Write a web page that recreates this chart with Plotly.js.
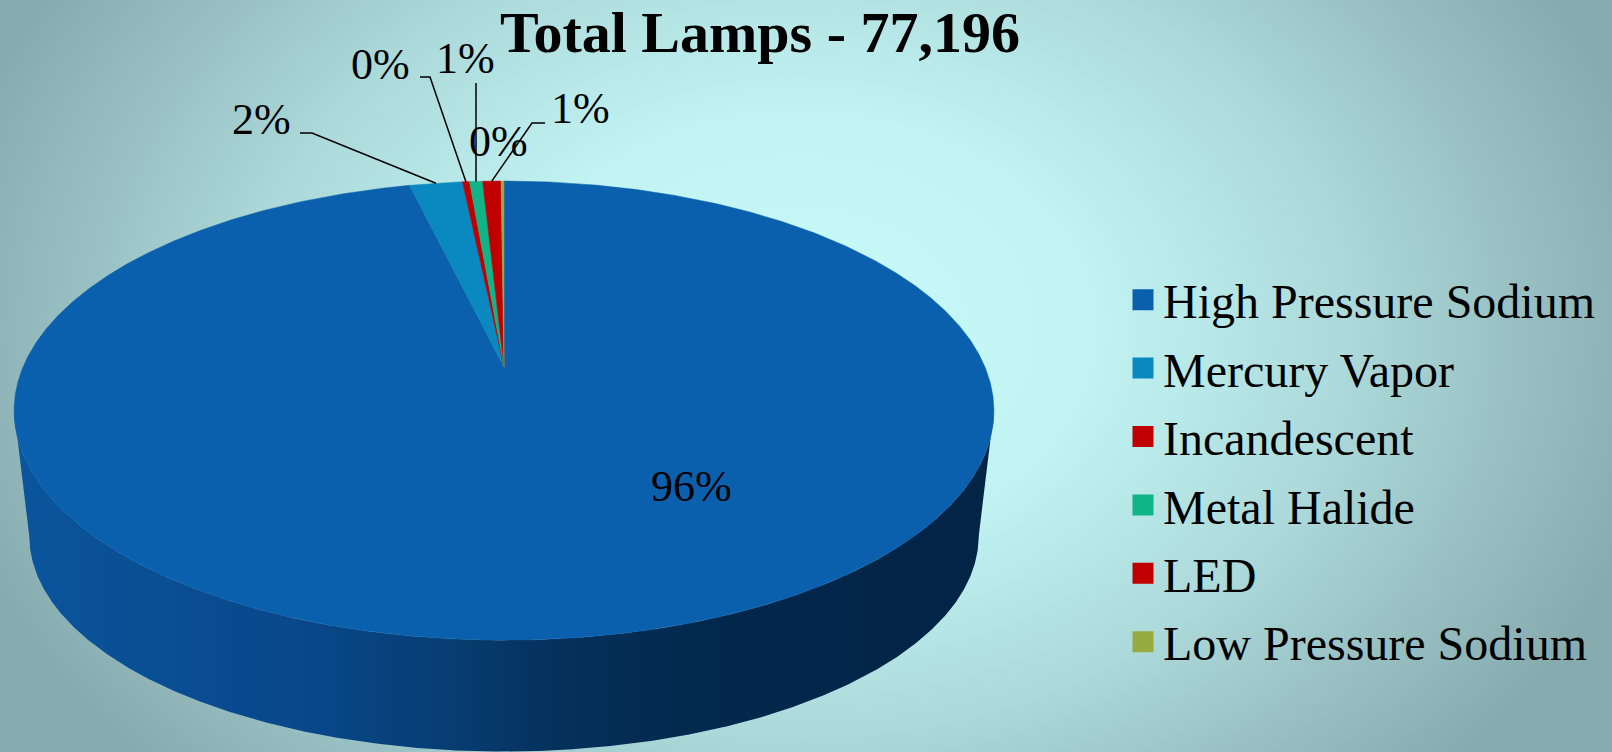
<!DOCTYPE html>
<html>
<head>
<meta charset="utf-8">
<script src="https://cdn.plot.ly/plotly-3.0.1.min.js"></script>
<style>
  html, body { margin: 0; padding: 0; }
  body { width: 1612px; height: 752px; overflow: hidden;
    background: radial-gradient(ellipse 840px 620px at 800px 330px,
      #c9fbfb 0%, #c1f3f3 35%, #acd9da 65%, #96bdc0 88%, #86abaf 105%); }
  #chart { width: 1612px; height: 752px; }
</style>
</head>
<body>
<div id="chart"></div>
<script>
// ---- data ----
const categories = ['High Pressure Sodium', 'Mercury Vapor', 'Incandescent', 'Metal Halide', 'LED', 'Low Pressure Sodium'];
const lampCounts = [74311, 1620, 215, 400, 560, 90];
const sliceColors = ['#0b60ad', '#0989c0', '#c00000', '#10b487', '#c00000', '#98ab43'];
const titlePrefix = 'Total Lamps - ';

// ---- geometry of the tilted (3-D look) pie, in pixel axis units ----
const W = 1612, H = 752;
const CX = 504, CY = 367, A = 221.3, B = 481, C = 0.19;   // top face perspective
const SX = 0.969, SY = 0.939, CYB = 495;                 // bottom face
const SERIF = 'Liberation Serif';
function proj(deg, face) {
  const t = deg * Math.PI / 180;
  const u = Math.sin(t), v = Math.cos(t);
  const w = 1 + C * v;
  let x = CX + B * u / w, y = CY - A * v / w;
  if (face === 'bottom') { x = CX + SX * (x - CX); y = CYB + SY * (y - CY); }
  return [x, y];
}
function arc(a0, a1, face) {
  const n = Math.max(2, Math.ceil(Math.abs(a1 - a0) / 0.2));
  const pts = [];
  for (let i = 0; i <= n; i++) pts.push(proj(a0 + (a1 - a0) * i / n, face));
  return pts;
}

const total = lampCounts.reduce((s, v) => s + v, 0);
const starts = [], ends = [];
let acc = 0;
lampCounts.forEach(v => { starts.push(acc / total * 360); acc += v; ends.push(acc / total * 360); });

const traces = [];
// side wall of the front (only the first, large slice is visible from the front)
const eA = Math.acos(-C) * 180 / Math.PI;
{
  const top = arc(eA, 360 - eA, 'top');
  const bot = arc(360 - eA, eA, 'bottom');
  const pts = top.concat(bot);
  pts.push(pts[0]);
  traces.push({
    type: 'scatter', mode: 'lines', fill: 'toself',
    x: pts.map(p => p[0]), y: pts.map(p => p[1]),
    line: { width: 0, color: '#05305a' },
    fillgradient: { type: 'horizontal',
      colorscale: [[0, '#0b559c'], [0.3, '#08478a'], [0.45, '#073d72'], [0.55, '#05315c'], [0.7, '#03284d'], [1, '#022445']] },
    hoverinfo: 'skip', showlegend: false, legendgroup: categories[0]
  });
}
// top faces
categories.forEach((name, i) => {
  const pts = [[CX, CY]].concat(arc(starts[i], ends[i], 'top'));
  pts.push([CX, CY]);
  traces.push({
    type: 'scatter', mode: 'lines', fill: 'toself',
    x: pts.map(p => p[0]), y: pts.map(p => p[1]),
    fillcolor: sliceColors[i], line: { width: 0.5, color: sliceColors[i] },
    name: name, hoverinfo: 'name', showlegend: false, legendgroup: name
  });
});
// legend entries
categories.forEach((name, i) => {
  traces.push({
    type: 'scatter', mode: 'markers', x: [null], y: [null], name: name,
    legendgroup: name, showlegend: true,
    marker: { symbol: 'square', size: 16, color: sliceColors[i], line: { width: 8, color: sliceColors[i] } }
  });
});

// percent labels
const pct = lampCounts.map(v => Math.round(v / total * 100) + '%');
const labelPos = [[691, 486], [261, 119], [380, 64], [465, 58], [580, 108], [498, 141]];
const leaderStart = [null, [[300, 133], [312, 133]], [[420, 77], [430, 77]], [[476, 83]], [[545, 123], [532, 123]], null];
const annotations = categories.map((name, i) => ({
  xref: 'x', yref: 'y', x: labelPos[i][0], y: labelPos[i][1], text: pct[i], showarrow: false,
  xanchor: 'center', yanchor: 'middle',
  font: { family: SERIF, size: 44, color: '#000' }
}));
const shapes = [];
categories.forEach((name, i) => {
  if (!leaderStart[i]) return;
  const end = proj((starts[i] + ends[i]) / 2, 'top');
  const pts = leaderStart[i].concat([end]);
  shapes.push({
    type: 'path', xref: 'x', yref: 'y',
    path: 'M' + pts.map(p => p[0].toFixed(1) + ',' + p[1].toFixed(1)).join('L'),
    line: { color: '#000', width: 1.5 }
  });
});

const layout = {
  width: W, height: H,
  margin: { l: 0, r: 0, t: 0, b: 0, pad: 0 },
  paper_bgcolor: 'rgba(0,0,0,0)', plot_bgcolor: 'rgba(0,0,0,0)',
  font: { family: SERIF },
  xaxis: { range: [0, W], visible: false, fixedrange: true },
  yaxis: { range: [H, 0], visible: false, fixedrange: true },
  title: {
    text: titlePrefix + total.toLocaleString('en-US'),
    font: { family: SERIF, size: 58, color: '#000', weight: 'bold' },
    x: 760 / W, xanchor: 'center', xref: 'container',
    y: 1 - 32 / H, yanchor: 'middle', yref: 'container'
  },
  showlegend: true,
  legend: {
    x: 1123 / W, xanchor: 'left', y: 1 - 262 / H, yanchor: 'top',
    bgcolor: 'rgba(0,0,0,0)', borderwidth: 0,
    traceorder: 'grouped', tracegroupgap: 3,
    font: { family: SERIF, size: 48, color: '#000' }
  },
  annotations: annotations,
  shapes: shapes
};

Plotly.newPlot('chart', traces, layout, { staticPlot: true, displayModeBar: false });
</script>
</body>
</html>
